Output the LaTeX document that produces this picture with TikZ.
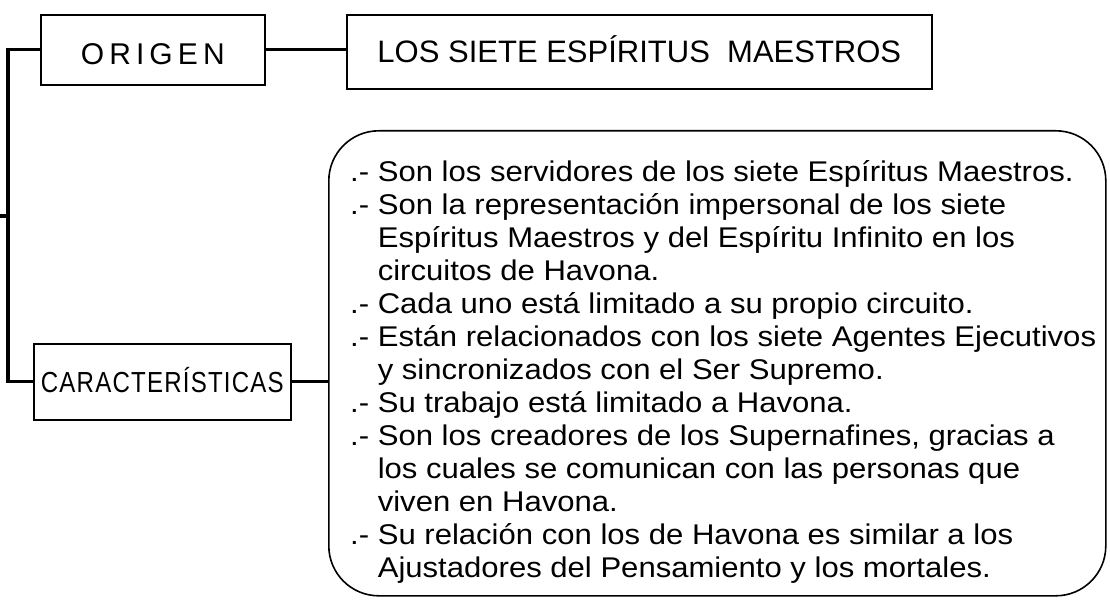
\documentclass[tikz,border=0pt]{standalone}
\usepackage{fontspec}
\setmainfont{Liberation Sans}
\usetikzlibrary{positioning}

\newcommand{\sangria}{\phantom{.-\ }}

\begin{document}
\begin{tikzpicture}[x=1pt,y=-1pt,
  box/.style={draw,line width=1.6pt,inner sep=0pt,anchor=north west,
    text height=22pt,text depth=0pt},
  link/.style={line width=3.2pt}]
  \useasboundingbox (0,0) rectangle (1110,604);
  \node[box,minimum width=224pt,minimum height=70pt,text height=30pt,
    font=\fontsize{30}{36}\selectfont] (origen) at (40,14)
    {\addfontfeature{LetterSpace=17}ORIGEN};
  \node[box,minimum width=585pt,minimum height=74pt,
    font=\fontsize{31}{36}\selectfont] (siete) at (346,14)
    {LOS SIETE ESPÍRITUS\ \ MAESTROS};
  \node[box,minimum width=257pt,minimum height=76pt,text height=21pt,
    font=\fontsize{29}{34}\selectfont] (caract) at (33,343)
    {\scalebox{0.83}[1]{\addfontfeature{LetterSpace=5}CARACTERÍSTICAS}};
  \node[box,rounded corners=50pt,minimum width=777pt,minimum height=465pt] (rasgos) at (328,130) {};
  \node[anchor=north west,inner sep=0pt,align=left,
    font=\fontsize{28.5}{33}\selectfont\addfontfeature{FakeStretch=1.09}] (lista) at (350,160)
    {.- Son los servidores de los siete Espíritus Maestros.\\
     .- Son la representación impersonal de los siete\\
     \sangria Espíritus Maestros y del Espíritu Infinito en los\\
     \sangria circuitos de Havona.\\
     .- Cada uno está limitado a su propio circuito.\\
     .- Están relacionados con los siete Agentes Ejecutivos\\
     \sangria y sincronizados con el Ser Supremo.\\
     .- Su trabajo está limitado a Havona.\\
     .- Son los creadores de los Supernafines, gracias a\\
     \sangria los cuales se comunican con las personas que\\
     \sangria viven en Havona.\\
     .- Su relación con los de Havona es similar a los\\
     \sangria Ajustadores del Pensamiento y los mortales.};
  % tronco de la llave
  \coordinate (tronco) at (8,216);
  \coordinate (borde) at (0,216);
  \draw[link] (origen.west) -| (tronco) |- (caract.west);
  \draw[link] (tronco) -- (borde);
  \draw[link] (origen.east) -- (origen.east -| siete.west);
  \draw[link] (caract.east) -- (caract.east -| rasgos.west);
\end{tikzpicture}
\end{document}
